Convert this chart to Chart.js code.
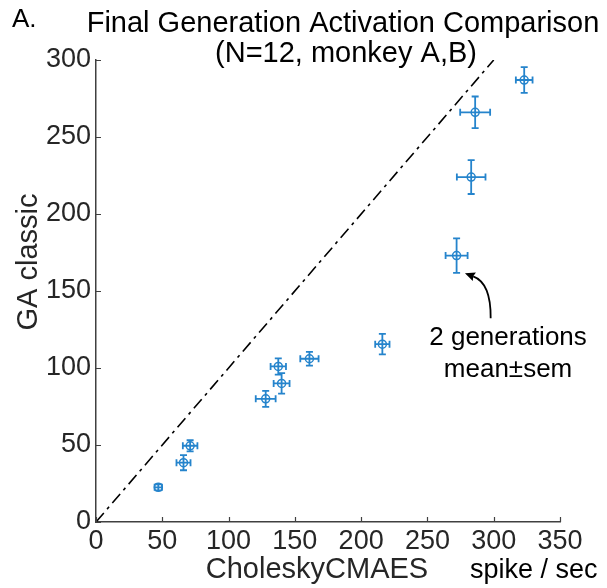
<!DOCTYPE html>
<html>
<head>
<meta charset="utf-8">
<script src="https://cdn.jsdelivr.net/npm/chart.js@4.4.1/dist/chart.umd.min.js"></script>
<style>
  html, body { margin: 0; padding: 0; background: #ffffff; }
  #wrap { width: 607px; height: 588px; position: relative; }
</style>
</head>
<body>
<div id="wrap"><canvas id="c" width="607" height="588"></canvas></div>
<script>
// ---- data ----
const choleskyMean = [323, 286, 283, 272, 216, 161, 137.5, 140, 128, 71, 66, 47];
const gaMean       = [287, 266, 224, 173, 115.5, 106, 101, 90, 80, 49.5, 38.5, 22.5];
const choleskySem  = [6.3, 11.3, 10.8, 8.3, 5.4, 6.9, 5.8, 6, 7.5, 5.5, 5.3, 2.8];
const gaSem        = [8.4, 10.3, 11, 11.2, 6.6, 4.5, 5.3, 6.7, 5.2, 3.6, 4.9, 2];
const identityLine = [0, 300];
const xTicks = [0, 50, 100, 150, 200, 250, 300, 350];
const yTicks = [0, 50, 100, 150, 200, 250, 300];

const panelLabel = 'A.';
const titleLines = ['Final Generation Activation Comparison', '(N=12, monkey A,B)'];
const xTitle = 'CholeskyCMAES';
const unitLabel = 'spike / sec';
const yTitle = 'GA classic';
const noteLines = ['2 generations', 'mean\u00B1sem'];
const noteAnchor = [310.8, 114.9, 94.4];          // x, baseline y line1, line2 (data units)
const arrowPath = [297.7, 132.3, 298, 155.2, 278.3, 161.5]; // tail, control, head (data units)

const FONT = '"Liberation Sans", Arial, Helvetica, sans-serif';
const BLUE = '#2584cc';
const AXIS = '#404040';
const TEXT = '#262626';

const errorBars = {
  id: 'errorBars',
  afterDatasetsDraw(chart) {
    const ctx = chart.ctx, xs = chart.scales.x, ys = chart.scales.y;
    ctx.save();
    ctx.strokeStyle = BLUE;
    ctx.lineWidth = 1.8;
    const cap = 3.5;
    for (let i = 0; i < choleskyMean.length; i++) {
      const cx = xs.getPixelForValue(choleskyMean[i]);
      const cy = ys.getPixelForValue(gaMean[i]);
      const x0 = xs.getPixelForValue(choleskyMean[i] - choleskySem[i]);
      const x1 = xs.getPixelForValue(choleskyMean[i] + choleskySem[i]);
      const y0 = ys.getPixelForValue(gaMean[i] - gaSem[i]);
      const y1 = ys.getPixelForValue(gaMean[i] + gaSem[i]);
      ctx.beginPath();
      ctx.moveTo(x0, cy); ctx.lineTo(x1, cy);
      ctx.moveTo(x0, cy - cap); ctx.lineTo(x0, cy + cap);
      ctx.moveTo(x1, cy - cap); ctx.lineTo(x1, cy + cap);
      ctx.moveTo(cx, y0); ctx.lineTo(cx, y1);
      ctx.moveTo(cx - cap, y0); ctx.lineTo(cx + cap, y0);
      ctx.moveTo(cx - cap, y1); ctx.lineTo(cx + cap, y1);
      ctx.stroke();
    }
    ctx.restore();
  }
};

const decorations = {
  id: 'decorations',
  afterDraw(chart) {
    const ctx = chart.ctx, xs = chart.scales.x, ys = chart.scales.y;
    const area = chart.chartArea;
    ctx.save();
    // inward tick marks
    ctx.strokeStyle = AXIS;
    ctx.lineWidth = 1.2;
    ctx.beginPath();
    xTicks.forEach(v => {
      const px = Math.round(xs.getPixelForValue(v)) + 0.5;
      ctx.moveTo(px, area.bottom); ctx.lineTo(px, area.bottom - 5);
    });
    yTicks.forEach(v => {
      const py = Math.round(ys.getPixelForValue(v)) + 0.5;
      ctx.moveTo(area.left, py); ctx.lineTo(area.left + 5, py);
    });
    ctx.stroke();

    // panel label
    ctx.fillStyle = '#000';
    ctx.textBaseline = 'alphabetic';
    ctx.textAlign = 'left';
    ctx.font = '26px ' + FONT;
    ctx.fillText(panelLabel, 12, 27);

    // title
    ctx.textAlign = 'center';
    ctx.font = '29px ' + FONT;
    ctx.fillText(titleLines[0], 343, 32);
    ctx.fillText(titleLines[1], 346, 62);

    // axis titles
    ctx.fillStyle = TEXT;
    ctx.font = '29px ' + FONT;
    ctx.fillText(xTitle, 317, 578);
    ctx.fillStyle = '#000';
    ctx.font = '27px ' + FONT;
    ctx.textAlign = 'left';
    ctx.fillText(unitLabel, 470, 578);

    ctx.save();
    ctx.fillStyle = TEXT;
    ctx.translate(37, 262);
    ctx.rotate(-Math.PI / 2);
    ctx.textAlign = 'center';
    ctx.font = '29px ' + FONT;
    ctx.fillText(yTitle, 0, 0);
    ctx.restore();

    // annotation
    ctx.fillStyle = '#000';
    ctx.textAlign = 'center';
    ctx.font = '26px ' + FONT;
    const nx = xs.getPixelForValue(noteAnchor[0]);
    ctx.fillText(noteLines[0], nx, ys.getPixelForValue(noteAnchor[1]));
    ctx.fillText(noteLines[1], nx, ys.getPixelForValue(noteAnchor[2]));

    // curved arrow
    const tx = xs.getPixelForValue(arrowPath[0]), ty = ys.getPixelForValue(arrowPath[1]);
    const qx = xs.getPixelForValue(arrowPath[2]), qy = ys.getPixelForValue(arrowPath[3]);
    const hx = xs.getPixelForValue(arrowPath[4]), hy = ys.getPixelForValue(arrowPath[5]);
    ctx.strokeStyle = '#000';
    ctx.lineWidth = 1.8;
    const ang = Math.atan2(hy - qy, hx - qx);
    const len = 11;
    const bx = hx - len * 0.8 * Math.cos(ang), by = hy - len * 0.8 * Math.sin(ang);
    ctx.beginPath();
    ctx.moveTo(tx, ty);
    ctx.quadraticCurveTo(qx, qy, bx, by);
    ctx.stroke();
    ctx.beginPath();
    ctx.moveTo(hx, hy);
    ctx.lineTo(hx - len * Math.cos(ang - 0.42), hy - len * Math.sin(ang - 0.42));
    ctx.lineTo(bx, by);
    ctx.lineTo(hx - len * Math.cos(ang + 0.42), hy - len * Math.sin(ang + 0.42));
    ctx.closePath();
    ctx.fillStyle = '#000';
    ctx.fill();
    ctx.restore();
  }
};

new Chart(document.getElementById('c'), {
  type: 'scatter',
  data: {
    datasets: [
      {
        label: 'identity',
        data: identityLine.map(v => ({ x: v, y: v })),
        showLine: true,
        borderColor: '#000',
        borderWidth: 1.6,
        borderDash: [12, 5, 3, 5],
        pointRadius: 0,
        fill: false
      },
      {
        label: 'neurons',
        data: choleskyMean.map((v, i) => ({ x: v, y: gaMean[i] })),
        pointStyle: 'circle',
        pointRadius: 4,
        pointBorderWidth: 1.5,
        pointBorderColor: BLUE,
        pointBackgroundColor: 'rgba(0,0,0,0)',
        showLine: false
      }
    ]
  },
  options: {
    responsive: false,
    animation: false,
    devicePixelRatio: 1,
    layout: { padding: { top: 60, right: 47, left: 0, bottom: 0 } },
    plugins: { legend: { display: false }, tooltip: { enabled: false }, title: { display: false } },
    scales: {
      x: {
        type: 'linear', min: 0, max: 350,
        afterBuildTicks: s => { s.ticks = xTicks.map(v => ({ value: v })); },
        afterFit: s => { s.height = 66; },
        grid: { display: false, drawTicks: false },
        border: { display: true, color: AXIS, width: 1.5 },
        ticks: { color: TEXT, font: { family: FONT, size: 27 }, padding: 3, maxRotation: 0, autoSkip: false }
      },
      y: {
        type: 'linear', min: 0, max: 300,
        afterBuildTicks: s => { s.ticks = yTicks.map(v => ({ value: v })); },
        afterFit: s => { s.width = 96; },
        grid: { display: false, drawTicks: false },
        border: { display: true, color: AXIS, width: 1.5 },
        ticks: { color: TEXT, font: { family: FONT, size: 27 }, padding: 5, autoSkip: false }
      }
    }
  },
  plugins: [errorBars, decorations]
});
</script>
</body>
</html>
